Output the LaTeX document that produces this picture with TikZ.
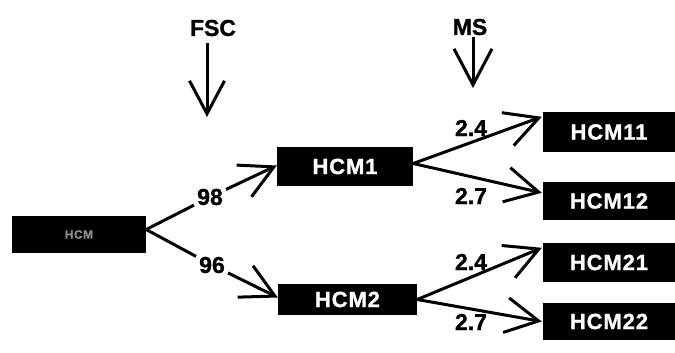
\documentclass[tikz,border=0pt]{standalone}
\usepackage{fontspec}
\setmainfont{Liberation Sans}
\usetikzlibrary{arrows.meta}
\begin{document}
\begin{tikzpicture}[x=1pt,y=-1pt,
  box/.style={fill=black,text=white,inner sep=0pt,font=\fontsize{22}{24}\selectfont\bfseries\addfontfeature{LetterSpace=4,FakeBold=1.2}},
  lab/.style={inner sep=3pt,font=\fontsize{23}{25}\selectfont\bfseries\addfontfeature{FakeBold=1.2}},
  ln/.style={line width=3pt},
  arr/.style={line width=3pt,-{Straight Barb[length=33pt,width=35pt]}},
  arrms/.style={line width=3pt,-{Straight Barb[length=36pt,width=38pt]}}]
\useasboundingbox (0,0) rectangle (675,353);
% boxes
\node[box,minimum width=134pt,minimum height=37pt] (root) at (79,234.5) {\fontsize{12}{14}\selectfont\color{black!45}HCM};
\node[box,minimum width=136pt,minimum height=39pt] (hcm1) at (345,166.5) {HCM1};
\node[box,minimum width=139pt,minimum height=31pt] (hcm2) at (347.5,299.5) {HCM2};
\node[box,minimum width=132pt,minimum height=40pt] (hcm11) at (609,132) {HCM11};
\node[box,minimum width=132pt,minimum height=38pt] (hcm12) at (609,201) {HCM12};
\node[box,minimum width=132pt,minimum height=39pt] (hcm21) at (609,262.5) {HCM21};
\node[box,minimum width=132pt,minimum height=37pt] (hcm22) at (609,321.5) {HCM22};
% labels
\node[lab] (fsc) at (213,28) {FSC};
\node[lab] (ms) at (470,27) {MS};
\node[lab] (l98) at (210,197) {98};
\node[lab] (l96) at (212,265) {96};
\node[lab] (l24a) at (471,128) {2.4};
\node[lab] (l27a) at (471,196) {2.7};
\node[lab] (l24b) at (471,262) {2.4};
\node[lab] (l27b) at (471,322) {2.7};
% top arrows
\coordinate (fsctop) at (207,43);
\coordinate (fsctip) at (207,117);
\coordinate (mstop) at (473,37);
\coordinate (mstip) at (473,88);
\draw[arr] (fsctop) -- (fsctip);
\draw[arrms] (mstop) -- (mstip);
% root branches
\coordinate (rs) at ([yshift=5pt]root.east);
\draw[ln] (rs) -- (l98);
\draw[arr] (l98) -- ([yshift=1pt]hcm1.west);
\draw[ln] (rs) -- (l96);
\draw[arr] (l96) -- ([yshift=2pt]hcm2.west);
% second level
\draw[arr] ([yshift=3pt]hcm1.east) -- ([xshift=-1pt,yshift=-5pt]hcm11.north west);
\draw[arr] ([yshift=3pt]hcm1.east) -- ([xshift=-1pt,yshift=-11pt]hcm12.north west);
\draw[arr] (hcm2.east) -- ([xshift=-1pt,yshift=-5pt]hcm21.north west);
\draw[arr] (hcm2.east) -- ([xshift=-1pt]hcm22.west);
\end{tikzpicture}
\end{document}
